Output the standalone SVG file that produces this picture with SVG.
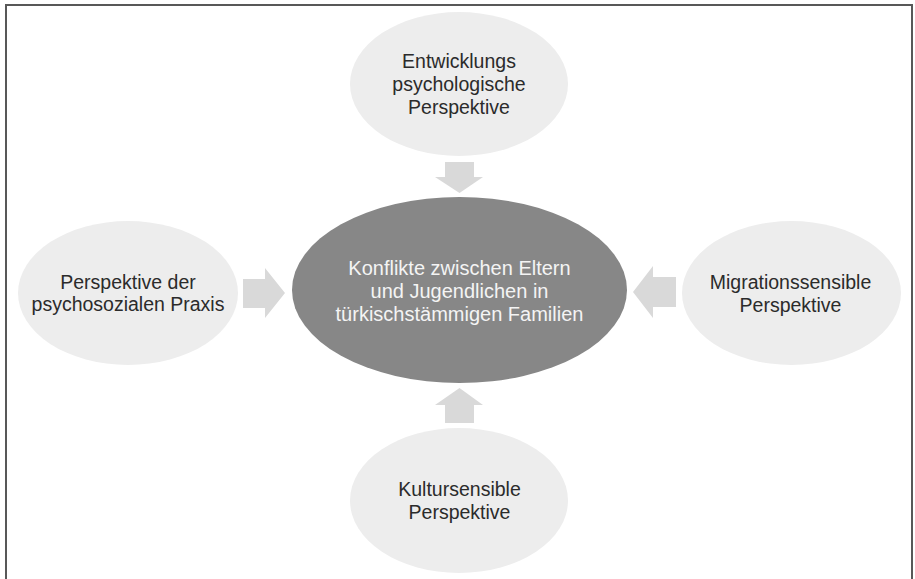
<svg xmlns="http://www.w3.org/2000/svg" width="915" height="579" viewBox="0 0 915 579">
  <style>
    .outer { fill: #ededed; }
    .center { fill: #878787; }
    .arrow { fill: #d9d9d9; }
    .label { font-family: "Liberation Sans", Arial, sans-serif; font-size: 19.5px; fill: #2b2b2b; text-anchor: middle; }
    .label-center { font-family: "Liberation Sans", Arial, sans-serif; font-size: 20px; fill: #f4f4f4; text-anchor: middle; }
  </style>
  <rect width="915" height="579" fill="#ffffff"/>
  <!-- frame (bottom edge runs off the page) -->
  <rect x="6" y="5" width="906" height="600" fill="none" stroke="#585858" stroke-width="2"/>

  <g id="connectors">
    <!-- from top -->
    <polygon class="arrow" points="445,162 474,162 474,177 483,177 459.5,193 435,177 445,177"/>
    <!-- from left -->
    <polygon class="arrow" points="243,279 265,279 265,268 285,293 265,318 265,308 243,308"/>
    <!-- from right -->
    <polygon class="arrow" points="676,277 653,277 653,266 633,292 653,318 653,307 676,307"/>
    <!-- from bottom -->
    <polygon class="arrow" points="445,423 474,423 474,405 483,405 459.5,388 435,405 445,405"/>
  </g>

  <g id="node-center">
    <ellipse class="center" cx="459.5" cy="290" rx="167.5" ry="93"/>
    <text class="label-center" x="459.5" y="275">Konflikte zwischen Eltern</text>
    <text class="label-center" x="459.5" y="298">und Jugendlichen in</text>
    <text class="label-center" x="459.5" y="320.5">türkischstämmigen Familien</text>
  </g>

  <g id="node-top">
    <ellipse class="outer" cx="459" cy="84" rx="109" ry="72"/>
    <text class="label" x="459" y="68">Entwicklungs</text>
    <text class="label" x="459" y="91">psychologische</text>
    <text class="label" x="459" y="114">Perspektive</text>
  </g>

  <g id="node-left">
    <ellipse class="outer" cx="128" cy="293" rx="110" ry="72"/>
    <text class="label" x="128" y="288.5">Perspektive der</text>
    <text class="label" x="128" y="311">psychosozialen Praxis</text>
  </g>

  <g id="node-right">
    <ellipse class="outer" cx="791.5" cy="293" rx="109.5" ry="72"/>
    <text class="label" x="790.5" y="289">Migrationssensible</text>
    <text class="label" x="790.5" y="311.5">Perspektive</text>
  </g>

  <g id="node-bottom">
    <ellipse class="outer" cx="459" cy="500.5" rx="109" ry="72.5"/>
    <text class="label" x="459.5" y="496">Kultursensible</text>
    <text class="label" x="459.5" y="519">Perspektive</text>
  </g>
</svg>
